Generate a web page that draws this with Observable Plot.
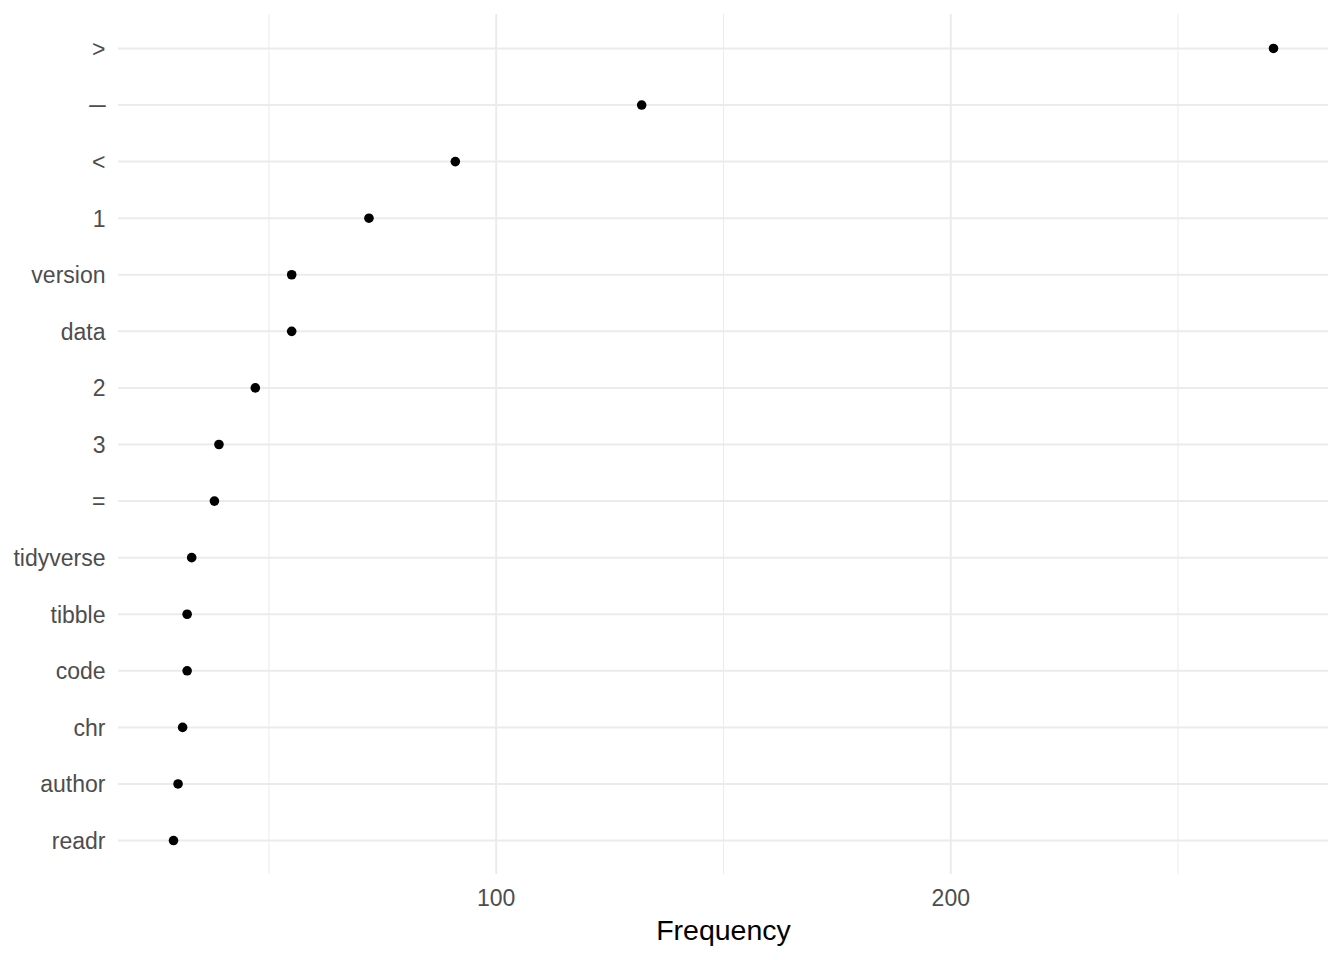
<!DOCTYPE html>
<html>
<head>
<meta charset="utf-8">
<script src="https://cdn.jsdelivr.net/npm/d3@7"></script>
<script src="https://cdn.jsdelivr.net/npm/@observablehq/plot@0.6"></script>
<style>
  html, body { margin: 0; padding: 0; background: #fff; }
  #chart { width: 1344px; height: 960px; }
</style>
</head>
<body>
<div id="chart"></div>
<script>
// words, top to bottom
const words = [">", "─", "<", "1", "version", "data", "2", "3", "=", "tidyverse", "tibble", "code", "chr", "author", "readr"];
const frequencies = [271, 132, 91, 72, 55, 55, 47, 39, 38, 33, 32, 32, 31, 30, 29];
const majorTicks = [100, 200];
const minorTicks = [50, 150, 250];

const data = words.map((w, i) => ({word: w, n: frequencies[i]}));

const lo = d3.min(frequencies), hi = d3.max(frequencies);
const pad = (hi - lo) * 0.05;

const chart = Plot.plot({
  width: 1344,
  height: 960,
  marginTop: 14,
  marginBottom: 86,
  marginLeft: 118,
  marginRight: 16,
  style: {fontFamily: "'Liberation Sans', Arial, sans-serif", background: "#fff"},
  x: {domain: [lo - pad, hi + pad]},
  y: {type: "point", domain: words, padding: 0.6, round: false},
  marks: [
    Plot.ruleX(minorTicks, {stroke: "#EBEBEB", strokeWidth: 1}),
    Plot.ruleX(majorTicks, {stroke: "#EBEBEB", strokeWidth: 2}),
    Plot.ruleY(words, {y: d => d, stroke: "#EBEBEB", strokeWidth: 2}),
    Plot.axisX({ticks: majorTicks, tickSize: 0, tickPadding: 15.5, fontSize: 23, fill: "#4D4D4D", label: null}),
    Plot.axisY({tickSize: 0, tickPadding: 13, fontSize: 23, fill: "#4D4D4D", label: null, dy: 1}),
    Plot.text(["Frequency"], {frameAnchor: "bottom", dy: 65, fontSize: 28.5, fill: "#000"}),
    Plot.dot(data, {x: "n", y: "word", r: 4.8, fill: "#000", stroke: null})
  ]
});
document.getElementById("chart").appendChild(chart);
</script>
</body>
</html>
